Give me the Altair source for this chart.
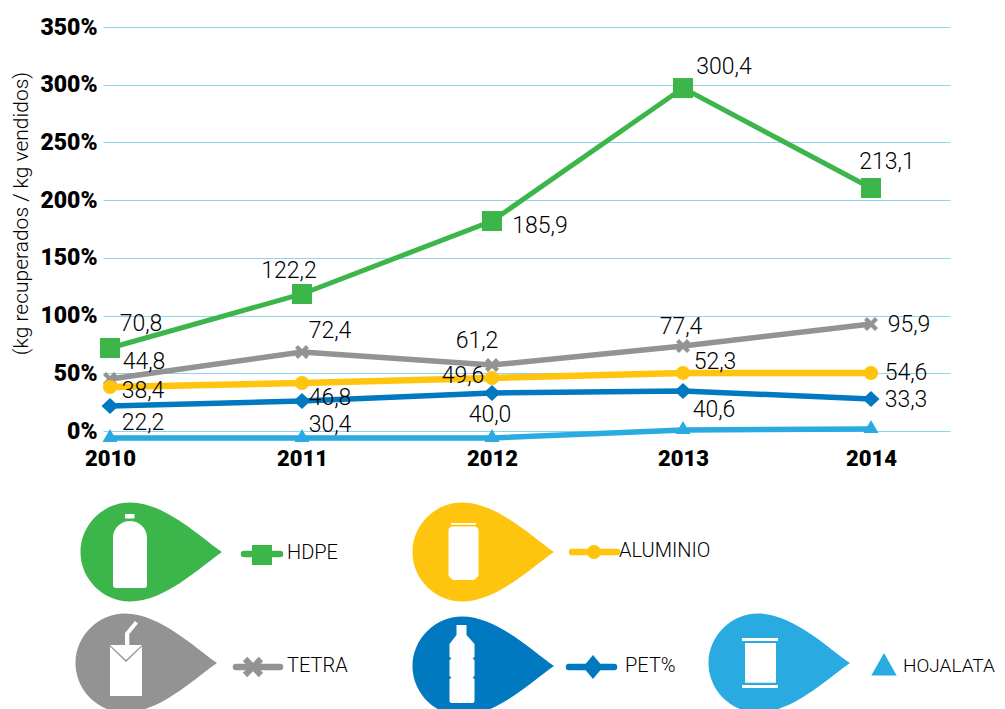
import altair as alt
import pandas as pd

# ---------- data ----------
YEARS = [2010, 2011, 2012, 2013, 2014]
HDPE = [71.9, 118.7, 181.9, 297.1, 210.5]
TETRA = [45.0, 68.4, 57.2, 73.6, 92.7]
ALUMINIO = [38.1, 41.6, 45.9, 50.2, 50.2]
PET = [21.7, 26.0, 32.9, 34.7, 27.7]
HOJALATA = [-6.0, -6.0, -6.0, 0.9, 1.7]
HDPE_LABELS = ["70,8", "122,2", "185,9", "300,4", "213,1"]
TETRA_LABELS = ["44,8", "72,4", "61,2", "77,4", "95,9"]
ALUMINIO_LABELS = ["38,4", "46,8", "49,6", "52,3", "54,6"]
PET_LABELS = ["22,2", "30,4", "40,0", "40,6", "33,3"]
Y_TICKS = [0, 50, 100, 150, 200, 250, 300, 350]

# ---------- layout and style ----------
FONT = "Roboto"
INK = "#000000"
GREEN, GRAY, YELLOW, BLUE, SKY = "#3cb54a", "#939393", "#ffc40e", "#0079c1", "#29abe2"
LEFT, TOP = 103, 27   # page position of the plot origin

X_MARK = "M-7 -4 L-4 -7 L0 -3 L4 -7 L7 -4 L3 0 L7 4 L4 7 L0 3 L-4 7 L-7 4 L-3 0 Z"
SQUARE = "M-10 -10 H10 V10 H-10 Z"
CIRCLE = "M-7 0 C-7 -3.9 -3.9 -7 0 -7 C3.9 -7 7 -3.9 7 0 C7 3.9 3.9 7 0 7 C-3.9 7 -7 3.9 -7 0 Z"
DIAMOND = "M-8.5 0 L0 -8 L8.5 0 L0 8 Z"
TRIANGLE = "M0 -9 L7.5 4 L-7.5 4 Z"
DROP = "M92 0 C70 -15 35 -49.5 0 -49.5 C-27 -49.5 -49.5 -27 -49.5 0 C-49.5 27 -27 49.5 0 49.5 C35 49.5 70 15 92 0 Z"

SERIES = [
    ("HDPE", HDPE, GREEN, SQUARE, HDPE_LABELS,
     [(31, -24), (-13, -23), (48, 5), (41, -21), (16, -26)], 5),
    ("TETRA", TETRA, GRAY, X_MARK, TETRA_LABELS,
     [(34, -17), (28, -21), (-15, -24), (-2, -19), (38, 1)], 5.5),
    ("ALUMINIO", ALUMINIO, YELLOW, CIRCLE, ALUMINIO_LABELS,
     [(33, 4), (28, 15), (-29, -2), (32, -11), (35, 0)], 6.5),
    ("PET%", PET, BLUE, DIAMOND, PET_LABELS,
     [(33, 17), (28, 24), (-2, 22), (31, 19), (35, 1)], 5.5),
    ("HOJALATA", HOJALATA, SKY, TRIANGLE, None, None, 5.5),
]

x_scale = alt.Scale(domain=[2009.96, 2010, 2011, 2012, 2013, 2014, 2014.41],
                    range=[0, 7, 199, 389, 580, 768, 847])
y_scale = alt.Scale(domain=[0, 350], nice=False, zero=False)
X = alt.X("year:Q", scale=x_scale, axis=alt.Axis(
    values=YEARS, format="d", title=None, grid=False, domain=False, ticks=False,
    labelFont=FONT, labelFontSize=22, labelFontWeight=900, labelColor="#000000",
    labelPadding=17, labelFlush=False, labelOverlap=False))
Y = alt.Y("value:Q", scale=y_scale, axis=alt.Axis(
    values=Y_TICKS, labelExpr="datum.value + '%'",
    title="(kg recuperados / kg vendidos)", titleFont=FONT, titleFontSize=21,
    titleFontWeight=300, titleColor=INK, titleX=-82, titleY=186,
    titleAlign="center", titleBaseline="middle",
    grid=True, gridColor="#8fd4f1", gridWidth=1, domain=False, ticks=False,
    labelFont=FONT, labelFontSize=23, labelFontWeight=900, labelColor="#000000",
    labelPadding=6, labelOverlap=False))

layers = []
for name, values, color, shape, labels, offsets, weight in SERIES:
    df = pd.DataFrame({"year": YEARS, "value": values})
    layers.append(alt.Chart(df).mark_line(color=color, strokeWidth=weight).encode(x=X, y=Y))
for name, values, color, shape, labels, offsets, weight in SERIES:
    df = pd.DataFrame({"year": YEARS, "value": values})
    layers.append(alt.Chart(df).mark_point(shape=shape, size=4, filled=True, color=color,
                                           opacity=1).encode(x=X, y=Y))
for name, values, color, shape, labels, offsets, weight in SERIES:
    if labels is None:
        continue
    for year, value, label, (dx, dy) in zip(YEARS, values, labels, offsets):
        df = pd.DataFrame({"year": [year], "value": [value], "label": [label]})
        layers.append(alt.Chart(df).mark_text(
            font=FONT, fontSize=23, fontWeight=300, color=INK, dx=dx, dy=dy,
            align="center", baseline="middle").encode(x=X, y=Y, text="label:N"))

# ---------- legend panel: drops, icons, swatches and names ----------
ONE = alt.Data(values=[{"k": 1}])


def glyph(px, py, path, color, size=4):
    return alt.Chart(ONE).mark_point(shape=path, size=size, filled=True, color=color,
                                     opacity=1).encode(
        x=alt.value(px - LEFT), y=alt.value(py - TOP))


def rule(x1, x2, py, color):
    return alt.Chart(ONE).mark_rule(color=color, strokeWidth=6.5, strokeCap="round").encode(
        x=alt.value(x1 - LEFT), x2=alt.value(x2 - LEFT), y=alt.value(py - TOP))


def name_text(px, py, text, size=20):
    return alt.Chart(ONE).mark_text(text=text, font=FONT, fontSize=size, fontWeight=300, color=INK,
                                    align="left", baseline="middle").encode(
        x=alt.value(px - LEFT), y=alt.value(py - TOP))


BOTTLE = ("M-17 -14 C-17 -25 -8 -31 0 -31 C8 -31 17 -25 17 -14 L17 33 Q17 36 14 36 L-14 36 "
          "Q-17 36 -17 33 Z M-5 -38 H4.5 V-33.5 H-5 Z")
CAN = "M-11 -25.5 H14 L16.5 -23 V24 L12 28 H-9 L-13.5 24 V-23 Z M-11 -29 H14 V-27.3 H-11 Z"
CARTON = ("M-15 -18 H17 V33 H-15 Z M0 -18 V-30 L10 -42 L13 -39.5 L4.3 -29 V-18 Z")
FLAP = "M-15 -18 L1 -3 L17 -18 L17 -16.5 L1 -1 L-15 -16.5 Z"
PET_BOTTLE = ("M-5.5 -41 H4.5 V-31 L12.5 -22 V-9 L10.5 -7.5 L12.5 -6 V10 L10.5 11.5 L12.5 13 "
              "V35 Q12.5 37 10.5 37 H-10.5 Q-12.5 37 -12.5 35 V13 L-10.5 11.5 L-12.5 10 V-6 "
              "L-10.5 -7.5 L-12.5 -9 V-22 L-5.5 -31 Z")
TIN = ("M-13 -20 H18 V19.7 H-13 Z M-16 -25 H20 V-22 H-16 Z M-16 22 H20 V25 H-16 Z")
SWATCH_TRIANGLE = "M0 -11.5 L12.7 11 L-12.7 11 Z"
SWATCH_DIAMOND = "M-10 0 L0 -12 L10 0 L0 12 Z"

layers += [
    glyph(130, 552, DROP, GREEN), glyph(130, 552, BOTTLE, "#ffffff"),
    glyph(462, 552, DROP, YELLOW), glyph(462, 552, CAN, "#ffffff"),
    glyph(125, 663, DROP, GRAY), glyph(125, 663, CARTON, "#ffffff"), glyph(125, 663, FLAP, GRAY),
    glyph(462, 666, DROP, BLUE), glyph(462, 666, PET_BOTTLE, "#ffffff"),
    glyph(758, 663, DROP, SKY), glyph(758, 663, TIN, "#ffffff"),
    rule(244, 280, 554, GREEN), glyph(262, 555, SQUARE, GREEN),
    rule(572, 617, 552, YELLOW), glyph(594, 552, CIRCLE, YELLOW),
    rule(236, 280, 667, GRAY), glyph(253, 667, X_MARK, GRAY, size=8.4),
    rule(569, 614, 667, BLUE), glyph(593, 667, SWATCH_DIAMOND, BLUE),
    glyph(884, 664.5, SWATCH_TRIANGLE, SKY),
    name_text(287, 553, "HDPE"), name_text(619, 551, "ALUMINIO"),
    name_text(287, 666, "TETRA"), name_text(625, 666, "PET%"),
    name_text(903, 666, "HOJALATA", 19),
]

chart = alt.layer(*layers).properties(
    width=847, height=404,
    autosize=alt.AutoSizeParams(type="none"),
    padding={"left": LEFT - 8, "top": TOP - 8, "right": 47, "bottom": 278},
).configure_view(stroke=None)

chart.save("out.html", embed_options={"renderer": "svg", "actions": False})
